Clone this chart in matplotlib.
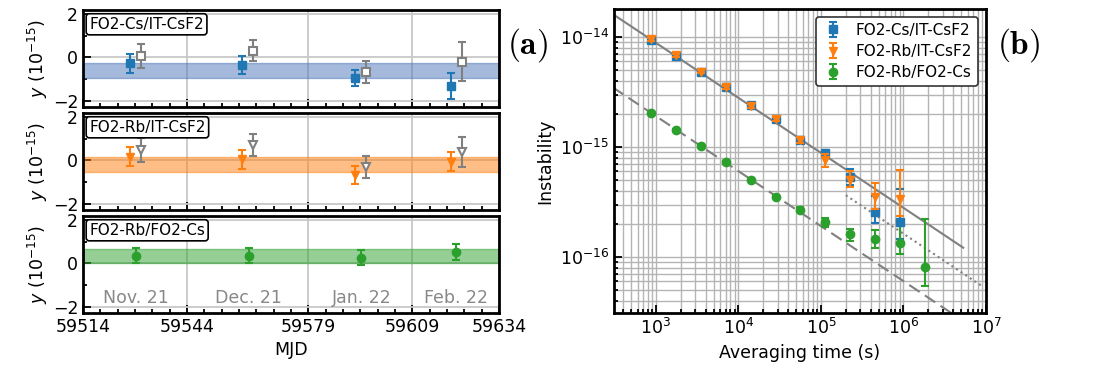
import numpy as np
import matplotlib.pyplot as plt
from matplotlib.ticker import FixedLocator, NullFormatter

# ---- panel (a): monthly means ----
mjd_main = [59527.5, 59560.0, 59592.5, 59620.2]
mjd_ref = [59530.6, 59563.1, 59595.6, 59623.3]
mjd_rbcs = [59529.3, 59561.8, 59594.3, 59621.6]

cs_y = [-0.26, -0.35, -0.95, -1.34]
cs_err = [0.44, 0.42, 0.38, 0.60]
cs_ref_y = [0.05, 0.32, -0.68, -0.20]
cs_ref_err = [0.55, 0.50, 0.50, 0.90]
cs_band = [-0.95, -0.25]

rb_y = [0.17, 0.05, -0.68, -0.06]
rb_err = [0.45, 0.43, 0.41, 0.44]
rb_ref_y = [0.50, 0.72, -0.30, 0.39]
rb_ref_err = [0.55, 0.51, 0.50, 0.70]
rb_band = [-0.54, 0.17]

rbcs_y = [0.35, 0.35, 0.27, 0.55]
rbcs_err = [0.35, 0.35, 0.35, 0.37]
rbcs_band = [0.0, 0.69]

months = ['Nov. 21', 'Dec. 21', 'Jan. 22', 'Feb. 22']
mjd_ticks = [59514, 59544, 59579, 59609, 59634]

# ---- panel (b): instability ----
tau = [880 * 2**k for k in range(12)]
adev_cs = [9.45e-15, 6.75e-15, 4.83e-15, 3.5e-15, 2.43e-15, 1.8e-15, 1.17e-15,
           8.75e-16, 5.37e-16, 2.57e-16, 2.1e-16]
adev_cs_lo = [0.3e-15, 0.2e-15, 0.15e-15, 0.12e-15, 0.1e-15, 0.08e-15, 0.07e-15,
              0.55e-16, 0.87e-16, 0.52e-16, 0.65e-16]
adev_cs_hi = [0.3e-15, 0.2e-15, 0.15e-15, 0.12e-15, 0.1e-15, 0.08e-15, 0.07e-15,
              0.65e-16, 1.0e-16, 1.03e-16, 2.1e-16]
adev_rb = [9.6e-15, 6.8e-15, 4.85e-15, 3.5e-15, 2.37e-15, 1.8e-15, 1.16e-15,
           7.6e-16, 5.07e-16, 3.52e-16, 3.4e-16]
adev_rb_lo = [0.3e-15, 0.2e-15, 0.15e-15, 0.12e-15, 0.1e-15, 0.08e-15, 0.07e-15,
              1.0e-16, 0.75e-16, 0.77e-16, 1.05e-16]
adev_rb_hi = [0.3e-15, 0.2e-15, 0.15e-15, 0.12e-15, 0.1e-15, 0.08e-15, 0.07e-15,
              1.0e-16, 1.0e-16, 1.18e-16, 2.85e-16]
adev_rbcs = [2.03e-15, 1.43e-15, 1.03e-15, 7.25e-16, 5.03e-16, 3.55e-16, 2.7e-16,
             2.07e-16, 1.61e-16, 1.45e-16, 1.35e-16, 8.2e-17]
adev_rbcs_lo = [0.05e-15, 0.04e-15, 0.03e-15, 0.2e-16, 0.15e-16, 0.12e-16, 0.15e-16,
                0.18e-16, 0.2e-16, 0.25e-16, 0.29e-16, 0.27e-16]
adev_rbcs_hi = [0.05e-15, 0.04e-15, 0.03e-15, 0.2e-16, 0.15e-16, 0.12e-16, 0.15e-16,
                0.18e-16, 0.2e-16, 0.33e-16, 0.59e-16, 1.4e-16]

plt.rcParams['font.size'] = 12.5
plt.rcParams['mathtext.default'] = 'regular'

fig = plt.figure(figsize=(11.03, 3.68), dpi=100)

left_a = 83 / 1103
width_a = 416 / 1103
bottoms = [1 - 107 / 368, 1 - 210 / 368, 1 - 313 / 368]
h_a = 97 / 368

panels = [
    ('FO2-Cs/IT-CsF2', 'C0', '#4a74b8', 's', cs_y, cs_err, cs_ref_y, cs_ref_err, cs_band, mjd_main),
    ('FO2-Rb/IT-CsF2', 'C1', 'C1', 'v', rb_y, rb_err, rb_ref_y, rb_ref_err, rb_band, mjd_main),
    ('FO2-Rb/FO2-Cs', 'C2', 'C2', 'o', rbcs_y, rbcs_err, None, None, rbcs_band, mjd_rbcs),
]

axes_a = []
for i, (name, col, bcol, mk, yv, ye, yr, yre, band, xm) in enumerate(panels):
    ax = fig.add_axes([left_a, bottoms[i], width_a, h_a])
    ax.axhspan(band[0], band[1], color=bcol, alpha=0.5, lw=1, zorder=1)
    ax.errorbar(xm, yv, yerr=ye, fmt=mk, color=col, ms=6, capsize=3, elinewidth=1.5,
                capthick=1.5, zorder=3)
    if yr is not None:
        ax.errorbar(mjd_ref, yr, yerr=yre, fmt=mk, color='gray', mfc='white', mec='gray',
                    mew=1.5, ms=6, capsize=3, elinewidth=1.5, capthick=1.5, zorder=3)
    ax.set_xlim(59514, 59634)
    ax.set_ylim(-2.3, 2.2)
    ax.xaxis.set_major_locator(FixedLocator(mjd_ticks))
    ax.xaxis.set_minor_locator(FixedLocator(np.arange(59514, 59635, 5)))
    ax.set_yticks([-2, 0, 2])
    ax.yaxis.set_minor_locator(FixedLocator([-1, 1]))
    ax.grid(True, which='major', color='#c8c8c8', lw=1.3, zorder=0)
    ax.set_axisbelow(True)
    ax.tick_params(which='both', direction='in', width=1.3)
    ax.tick_params(which='major', length=6)
    ax.tick_params(which='minor', length=3)
    for s in ax.spines.values():
        s.set_linewidth(2)
    ax.set_ylabel(r'$\mathit{y}$ ($10^{-15}$)', labelpad=2)
    ax.text(0.015, 0.93, name, transform=ax.transAxes, ha='left', va='top', fontsize=11,
            bbox=dict(boxstyle='round,pad=0.2', fc='white', ec='black', lw=1.2), zorder=5)
    if i < 2:
        ax.set_xticklabels([])
    axes_a.append(ax)

for m, x in zip(months, mjd_rbcs):
    axes_a[2].text(x, -1.6, m, ha='center', va='center', color='#888888', fontsize=12.5)
axes_a[2].set_xlabel('MJD')

# ---- panel (b) ----
ax = fig.add_axes([614 / 1103, 1 - 313 / 368, 372 / 1103, 304 / 368])
t_line = np.array([300, 5.3e6])
ax.plot(t_line, 2.8e-13 / np.sqrt(t_line), color='gray', lw=1.5, zorder=2)
t_dash = np.array([300, 1e7])
ax.plot(t_dash, 6.04e-14 / np.sqrt(t_dash), color='gray', lw=1.5, ls=(0, (6, 3)), zorder=2)
t_dot = np.array([2e5, 9e6])
ax.plot(t_dot, 1.63e-13 / np.sqrt(t_dot), color='gray', lw=1.5, ls=':', zorder=2)

ax.errorbar(tau[:11], adev_cs, yerr=[adev_cs_lo, adev_cs_hi], fmt='s', color='C0', ms=6,
            capsize=3, elinewidth=1.5, capthick=1.5, label='FO2-Cs/IT-CsF2', zorder=3)
ax.errorbar(tau[:11], adev_rb, yerr=[adev_rb_lo, adev_rb_hi], fmt='v', color='C1', ms=6,
            capsize=3, elinewidth=1.5, capthick=1.5, label='FO2-Rb/IT-CsF2', zorder=4)
ax.errorbar(tau, adev_rbcs, yerr=[adev_rbcs_lo, adev_rbcs_hi], fmt='o', color='C2', ms=6,
            capsize=3, elinewidth=1.5, capthick=1.5, label='FO2-Rb/FO2-Cs', zorder=3)

ax.set_xscale('log')
ax.set_yscale('log')
ax.set_xlim(310, 1e7)
ax.set_ylim(3.1e-17, 1.8e-14)
ax.xaxis.set_major_locator(FixedLocator([1e3, 1e4, 1e5, 1e6, 1e7]))
ax.yaxis.set_major_locator(FixedLocator([1e-16, 1e-15, 1e-14]))
xminor = [m * 10.0**e for e in range(2, 7) for m in range(2, 10) if 310 <= m * 10.0**e <= 1e7]
yminor = [m * 10.0**e for e in range(-17, -13) for m in range(2, 10)
          if 3.1e-17 <= m * 10.0**e <= 1.8e-14]
ax.xaxis.set_minor_locator(FixedLocator(xminor))
ax.yaxis.set_minor_locator(FixedLocator(yminor))
ax.xaxis.set_minor_formatter(NullFormatter())
ax.yaxis.set_minor_formatter(NullFormatter())
ax.grid(True, which='both', color='#b4b4b4', lw=1.0, zorder=0)
ax.set_axisbelow(True)
ax.tick_params(which='both', direction='in', width=1.3)
ax.tick_params(which='major', length=6)
ax.tick_params(which='minor', length=3)
for s in ax.spines.values():
    s.set_linewidth(2)
ax.set_xlabel('Averaging time (s)')
ax.set_ylabel('Instability')
leg = ax.legend(loc='upper right', fontsize=11, framealpha=1, edgecolor='#333333',
                borderaxespad=0.5, handlelength=1.4, labelspacing=0.4)
leg.get_frame().set_linewidth(1.2)

fig.text(527 / 1103, 1 - 45 / 368, r'$\mathbf{(a)}$', fontsize=24, ha='center', va='center',
         math_fontfamily='cm')
fig.text(1019 / 1103, 1 - 45 / 368, r'$\mathbf{(b)}$', fontsize=24, ha='center', va='center',
         math_fontfamily='cm')

fig.savefig('out.png', dpi=100)
